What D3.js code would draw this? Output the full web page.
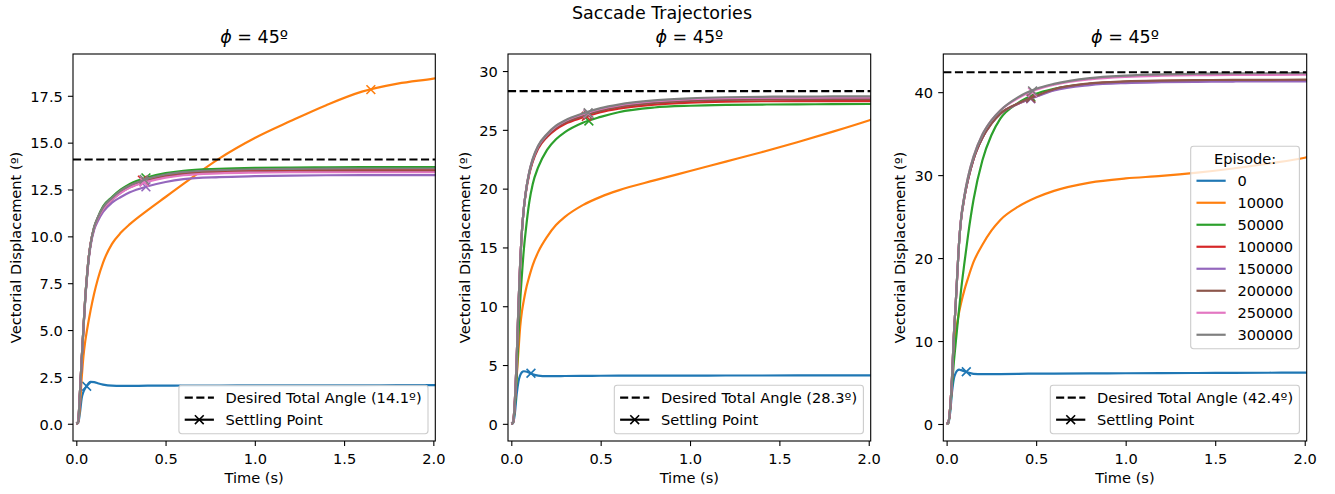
<!DOCTYPE html>
<html>
<head>
<meta charset="utf-8">
<script src="https://cdn.jsdelivr.net/npm/d3@7"></script>
<style>
  html, body { margin: 0; padding: 0; background: #fff; }
  svg text { font-family: "DejaVu Sans", sans-serif; fill: #000; }
</style>
</head>
<body>
<svg id="chart" width="1335" height="494"></svg>
<script>
// ---- data -------------------------------------------------------------
const time = [0, 0.01, 0.02, 0.03, 0.04, 0.05, 0.06, 0.07, 0.08, 0.1, 0.12, 0.15, 0.2, 0.25,
              0.3, 0.4, 0.5, 0.6, 0.8, 1.0, 1.2, 1.4, 1.6, 1.8, 2.0, 2.02];

const episodes = ["0", "10000", "50000", "100000", "150000", "200000", "250000", "300000"];
const palette = ["#1f77b4", "#ff7f0e", "#2ca02c", "#d62728", "#9467bd", "#8c564b", "#e377c2", "#7f7f7f"];

const targetAngles = [14.1, 28.3, 42.4];
const panelTitle = "45º";

// vectorial displacement (º) per episode, first panel
const disp1 = [
  [0, 0.03, 0.55, 1.35, 1.7, 1.9, 2.05, 2.17, 2.23, 2.22, 2.16, 2.09, 2.03, 2.02, 2.02, 2.03, 2.03, 2.04, 2.04, 2.05, 2.05, 2.05, 2.05, 2.06, 2.06, 2.06],
  [0, 0.05, 0.9, 2.4, 3.6, 4.4, 5.0, 5.55, 6.05, 6.95, 7.7, 8.6, 9.6, 10.2, 10.65, 11.4, 12.1, 12.8, 14.15, 15.25, 16.15, 17.0, 17.72, 18.15, 18.42, 18.45],
  [0, 0.1, 1.6, 3.4, 5.1, 6.7, 7.9, 8.9, 9.6, 10.5, 11.0, 11.6, 12.1, 12.5, 12.8, 13.15, 13.37, 13.5, 13.6, 13.65, 13.67, 13.68, 13.69, 13.7, 13.7, 13.7],
  [0, 0.1, 1.6, 3.4, 5.1, 6.7, 7.9, 8.9, 9.6, 10.45, 10.95, 11.5, 12.0, 12.4, 12.7, 13.03, 13.25, 13.38, 13.48, 13.52, 13.54, 13.55, 13.55, 13.55, 13.55, 13.55],
  [0, 0.1, 1.6, 3.4, 5.0, 6.6, 7.8, 8.8, 9.5, 10.35, 10.8, 11.3, 11.8, 12.1, 12.35, 12.67, 12.9, 13.05, 13.16, 13.21, 13.24, 13.26, 13.27, 13.27, 13.27, 13.27],
  [0, 0.1, 1.6, 3.4, 5.1, 6.7, 7.9, 8.9, 9.6, 10.45, 10.95, 11.45, 11.95, 12.35, 12.62, 12.95, 13.17, 13.3, 13.4, 13.44, 13.46, 13.47, 13.47, 13.47, 13.47, 13.47],
  [0, 0.1, 1.6, 3.4, 5.1, 6.7, 7.9, 8.9, 9.6, 10.45, 10.95, 11.45, 11.95, 12.32, 12.6, 12.92, 13.13, 13.26, 13.36, 13.4, 13.42, 13.42, 13.42, 13.42, 13.42, 13.42],
  [0, 0.1, 1.6, 3.4, 5.1, 6.7, 7.9, 8.9, 9.6, 10.5, 11.0, 11.55, 12.05, 12.45, 12.72, 13.07, 13.3, 13.43, 13.53, 13.58, 13.6, 13.61, 13.62, 13.62, 13.62, 13.62]
];
const settleT1 = [0.058, 1.65, 0.39, 0.37, 0.39, 0.38, 0.38, 0.38];
const settleY1 = [2.0, 17.83, 13.12, 13.0, 12.64, 12.93, 12.89, 13.04];

// second panel
const disp2 = [
  [0, 0.05, 0.9, 2.5, 3.6, 4.15, 4.4, 4.47, 4.45, 4.35, 4.22, 4.1, 4.05, 4.05, 4.07, 4.08, 4.09, 4.1, 4.1, 4.1, 4.11, 4.11, 4.12, 4.12, 4.12, 4.12],
  [0, 0.1, 1.8, 4.0, 6.2, 8.3, 9.6, 10.5, 11.3, 12.5, 13.5, 14.6, 15.9, 16.9, 17.6, 18.6, 19.3, 19.85, 20.7, 21.5, 22.3, 23.1, 23.95, 24.85, 25.8, 25.9],
  [0, 0.1, 1.5, 4.0, 7.5, 10.5, 12.8, 14.8, 16.3, 18.8, 20.4, 21.8, 23.3, 24.2, 24.8, 25.6, 26.1, 26.5, 26.9, 27.05, 27.12, 27.15, 27.17, 27.18, 27.2, 27.2],
  [0, 0.15, 2.0, 5.5, 10.0, 13.8, 16.5, 18.3, 19.5, 21.2, 22.3, 23.4, 24.4, 25.05, 25.5, 26.05, 26.5, 26.8, 27.15, 27.32, 27.4, 27.43, 27.44, 27.45, 27.45, 27.45],
  [0, 0.15, 2.0, 5.5, 10.0, 13.8, 16.5, 18.3, 19.6, 21.35, 22.45, 23.55, 24.55, 25.25, 25.7, 26.28, 26.72, 27.02, 27.38, 27.56, 27.64, 27.68, 27.69, 27.7, 27.7, 27.7],
  [0, 0.15, 2.0, 5.5, 10.0, 13.8, 16.5, 18.3, 19.6, 21.3, 22.4, 23.5, 24.5, 25.2, 25.62, 26.2, 26.64, 26.94, 27.3, 27.47, 27.55, 27.58, 27.59, 27.6, 27.6, 27.6],
  [0, 0.15, 2.0, 5.5, 10.0, 13.8, 16.5, 18.3, 19.6, 21.4, 22.5, 23.6, 24.6, 25.3, 25.75, 26.33, 26.77, 27.07, 27.43, 27.6, 27.69, 27.73, 27.74, 27.75, 27.75, 27.75],
  [0, 0.15, 2.0, 5.5, 10.0, 13.8, 16.5, 18.3, 19.6, 21.4, 22.55, 23.65, 24.65, 25.35, 25.8, 26.4, 26.85, 27.15, 27.5, 27.68, 27.77, 27.81, 27.83, 27.84, 27.85, 27.85]
];
const settleT2 = [0.11, null, 0.434, 0.42, 0.43, 0.43, 0.43, 0.43];
const settleY2 = [4.3, null, 25.75, 26.15, 26.33, 26.27, 26.38, 26.45];

// third panel
const disp3 = [
  [0, 0.1, 1.4, 3.8, 5.4, 6.1, 6.45, 6.55, 6.5, 6.35, 6.2, 6.05, 6.0, 6.0, 6.02, 6.05, 6.07, 6.08, 6.1, 6.12, 6.14, 6.15, 6.17, 6.18, 6.19, 6.19],
  [0, 0.15, 2.0, 5.3, 9.0, 11.0, 12.3, 13.5, 14.5, 16.2, 17.6, 19.5, 21.6, 23.3, 24.6, 26.2, 27.3, 28.1, 29.1, 29.6, 29.9, 30.3, 30.8, 31.4, 32.1, 32.2],
  [0, 0.15, 1.8, 4.5, 7.3, 9.6, 11.8, 13.9, 16.0, 19.5, 22.8, 27.0, 31.8, 34.8, 36.8, 38.7, 39.8, 40.4, 41.0, 41.25, 41.33, 41.37, 41.39, 41.4, 41.4, 41.4],
  [0, 0.2, 2.0, 5.5, 10.5, 14.2, 18.2, 22.0, 24.5, 27.4, 29.5, 31.9, 34.5, 36.2, 37.4, 38.6, 39.5, 40.3, 41.0, 41.25, 41.35, 41.4, 41.42, 41.43, 41.45, 41.45],
  [0, 0.2, 2.0, 5.5, 10.5, 14.2, 18.2, 22.0, 24.5, 27.4, 29.5, 31.9, 34.5, 36.2, 37.4, 38.6, 39.45, 40.2, 40.85, 41.1, 41.2, 41.25, 41.28, 41.29, 41.3, 41.3],
  [0, 0.2, 2.0, 5.5, 10.5, 14.2, 18.2, 22.0, 24.5, 27.4, 29.5, 31.9, 34.5, 36.2, 37.4, 38.65, 39.55, 40.35, 41.05, 41.3, 41.4, 41.45, 41.48, 41.49, 41.5, 41.5],
  [0, 0.2, 2.0, 5.5, 10.5, 14.2, 18.2, 22.0, 24.6, 27.6, 29.8, 32.2, 34.9, 36.6, 37.8, 39.3, 40.3, 40.9, 41.55, 41.85, 41.98, 42.04, 42.07, 42.09, 42.1, 42.1],
  [0, 0.2, 2.0, 5.5, 10.5, 14.2, 18.2, 22.0, 24.6, 27.6, 29.8, 32.2, 34.9, 36.6, 37.8, 39.4, 40.4, 41.0, 41.7, 42.0, 42.15, 42.22, 42.26, 42.28, 42.3, 42.3]
];
const settleT3 = [0.11, null, 0.47, 0.47, 0.47, 0.47, 0.48, 0.48];
const settleY3 = [6.3, null, 39.45, 39.25, 39.2, 39.3, 40.0, 40.15];

const xTicks = [0, 0.5, 1.0, 1.5, 2.0];
const yTicks1 = [0, 2.5, 5, 7.5, 10, 12.5, 15, 17.5];
const yTicks2 = [0, 5, 10, 15, 20, 25, 30];
const yTicks3 = [0, 10, 20, 30, 40];

// ---- layout -----------------------------------------------------------
const FS = 14.6;          // tick / label / legend font size
const TFS = 17.5;         // title font size
const LW = 2.19;          // line width
const TICK = 5.1;         // tick length and label pad
const DASH = "8.1,3.5";
const axTop = 54, axBottom = 441;

const panels = [
  { left: 73,    right: 435.3,  xDom: [-0.0185, 2.011], yDom: [-0.92, 19.73],
    disp: disp1, st: settleT1, sy: settleY1, yTicks: yTicks1, yFmt: d3.format(".1f"), target: targetAngles[0], episodeLegend: false },
  { left: 508,   right: 870.7,  xDom: [-0.0185, 2.011], yDom: [-1.46, 31.45],
    disp: disp2, st: settleT2, sy: settleY2, yTicks: yTicks2, yFmt: d3.format("d"), target: targetAngles[1], episodeLegend: false },
  { left: 943.3, right: 1306.7, xDom: [-0.0185, 2.011], yDom: [-2.05, 44.6],
    disp: disp3, st: settleT3, sy: settleY3, yTicks: yTicks3, yFmt: d3.format("d"), target: targetAngles[2], episodeLegend: true }
];

const svg = d3.select("#chart");
const defs = svg.append("defs");

svg.append("text")
  .attr("x", 662).attr("y", 18.5)
  .attr("text-anchor", "middle")
  .style("font-size", TFS + "px")
  .text("Saccade Trajectories");

function drawCross(g, cx, cy, color, size = 4.4) {
  g.append("path")
    .attr("d", `M${cx - size},${cy - size}L${cx + size},${cy + size}M${cx - size},${cy + size}L${cx + size},${cy - size}`)
    .attr("stroke", color).attr("stroke-width", 1.6).attr("fill", "none");
}

// legend box anchored by its right edge; rows = [{label, draw(g, x0, x1, cy)}]
function drawLegend(g, rightX, rows, opts) {
  const lg = g.append("g");
  const bg = lg.append("rect");
  const firstPad = 12.5, pitch = 22, lastPad = 14;
  const nRows = rows.length + (opts.title ? 1 : 0);
  const h = firstPad + (nRows - 1) * pitch + lastPad;
  const topY = opts.bottomY != null ? opts.bottomY - h : opts.centerY - h / 2;

  // measure labels to size the box
  const tmp = lg.append("g");
  let maxW = 0;
  rows.forEach(r => {
    const t = tmp.append("text").style("font-size", FS + "px").text(r.label);
    maxW = Math.max(maxW, t.node().getComputedTextLength());
  });
  tmp.remove();
  const textOff = 46.7, padR = 6.3;
  const w = textOff + maxW + padR;
  const leftX = rightX - w;

  bg.attr("x", leftX).attr("y", topY).attr("width", w).attr("height", h)
    .attr("rx", 2.9).attr("ry", 2.9)
    .attr("fill", "#fff").attr("fill-opacity", 0.8)
    .attr("stroke", "#cccccc").attr("stroke-width", 1.1);

  let rowIdx = 0;
  if (opts.title) {
    lg.append("text")
      .attr("x", leftX + w / 2).attr("y", topY + firstPad)
      .attr("dy", "0.36em").attr("text-anchor", "middle")
      .style("font-size", FS + "px").text(opts.title);
    rowIdx = 1;
  }
  rows.forEach((r, k) => {
    const cy = topY + firstPad + (rowIdx + k) * pitch;
    r.draw(lg, leftX + 5.8, leftX + 35, cy);
    lg.append("text")
      .attr("x", leftX + textOff).attr("y", cy).attr("dy", "0.36em")
      .style("font-size", FS + "px").text(r.label);
  });
}

panels.forEach((p, i) => {
  const x = d3.scaleLinear().domain(p.xDom).range([p.left, p.right]);
  const y = d3.scaleLinear().domain(p.yDom).range([axBottom, axTop]);
  const g = svg.append("g");

  const clipId = "plot-clip-" + i;
  defs.append("clipPath").attr("id", clipId)
    .append("rect").attr("x", p.left).attr("y", axTop)
    .attr("width", p.right - p.left).attr("height", axBottom - axTop);

  const plot = g.append("g").attr("clip-path", `url(#${clipId})`);
  const line = d3.line()
    .x((d, j) => x(time[j]))
    .y(d => y(d))
    .curve(d3.curveMonotoneX);

  p.disp.forEach((series, k) => {
    plot.append("path")
      .attr("d", line(series))
      .attr("fill", "none")
      .attr("stroke", palette[k])
      .attr("stroke-width", LW)
      .attr("stroke-linejoin", "round");
    if (p.st[k] != null) drawCross(plot, x(p.st[k]), y(p.sy[k]), palette[k]);
  });

  // desired total angle
  plot.append("line")
    .attr("x1", p.left).attr("x2", p.right)
    .attr("y1", y(p.target)).attr("y2", y(p.target))
    .attr("stroke", "#000").attr("stroke-width", LW)
    .attr("stroke-dasharray", DASH);

  // axes
  const xAxis = d3.axisBottom(x).tickValues(xTicks).tickFormat(d3.format(".1f"))
    .tickSize(TICK).tickPadding(TICK).tickSizeOuter(0);
  const xg = g.append("g").attr("transform", `translate(0,${axBottom})`).call(xAxis);
  const yAxis = d3.axisLeft(y).tickValues(p.yTicks).tickFormat(p.yFmt)
    .tickSize(TICK).tickPadding(TICK).tickSizeOuter(0);
  const yg = g.append("g").attr("transform", `translate(${p.left},0)`).call(yAxis);

  [xg, yg].forEach(a => {
    a.attr("font-size", null).attr("font-family", null);
    a.select(".domain").remove();
    a.selectAll(".tick line").attr("stroke", "#000").attr("stroke-width", 1.1);
    a.selectAll(".tick text").style("font-size", FS + "px").attr("fill", "#000");
  });
  xg.selectAll(".tick text").attr("dy", "0.91em");
  yg.selectAll(".tick text").attr("dy", "0.36em");

  // frame
  g.append("rect")
    .attr("x", p.left).attr("y", axTop)
    .attr("width", p.right - p.left).attr("height", axBottom - axTop)
    .attr("fill", "none").attr("stroke", "#000").attr("stroke-width", 1.1);

  // axis labels
  const cx = (p.left + p.right) / 2;
  g.append("text")
    .attr("x", cx).attr("y", 483)
    .attr("text-anchor", "middle")
    .style("font-size", FS + "px")
    .text("Time (s)");

  const tickLeft = d3.min(yg.selectAll(".tick text").nodes(), n => n.getBBox().x) + p.left;
  const lx = tickLeft - 9.4, ly = (axTop + axBottom) / 2;
  g.append("text")
    .attr("transform", `translate(${lx},${ly}) rotate(-90)`)
    .attr("text-anchor", "middle")
    .style("font-size", FS + "px")
    .text("Vectorial Displacement (º)");

  // panel title
  const title = g.append("text")
    .attr("x", cx).attr("y", 43)
    .attr("text-anchor", "middle")
    .style("font-size", TFS + "px");
  title.append("tspan").style("font-style", "italic").text("ϕ");
  title.append("tspan").text(" = " + panelTitle);

  // episode legend
  if (p.episodeLegend) {
    drawLegend(g, p.right - 7.3, episodes.map((ep, k) => ({
      label: ep,
      draw: (lg, x0, x1, cy) => lg.append("line")
        .attr("x1", x0).attr("x2", x1).attr("y1", cy).attr("y2", cy)
        .attr("stroke", palette[k]).attr("stroke-width", LW)
    })), { title: "Episode:", centerY: (axTop + axBottom) / 2 });
  }

  // reference legend
  drawLegend(g, p.right - 7.3, [
    { label: `Desired Total Angle (${p.target.toFixed(1)}º)`,
      draw: (lg, x0, x1, cy) => lg.append("line")
        .attr("x1", x0).attr("x2", x1).attr("y1", cy).attr("y2", cy)
        .attr("stroke", "#000").attr("stroke-width", LW).attr("stroke-dasharray", DASH) },
    { label: "Settling Point",
      draw: (lg, x0, x1, cy) => {
        lg.append("line")
          .attr("x1", x0).attr("x2", x1).attr("y1", cy).attr("y2", cy)
          .attr("stroke", "#000").attr("stroke-width", LW);
        drawCross(lg, (x0 + x1) / 2, cy, "#000");
      } }
  ], { bottomY: axBottom - 7.3 });
});
</script>
</body>
</html>
